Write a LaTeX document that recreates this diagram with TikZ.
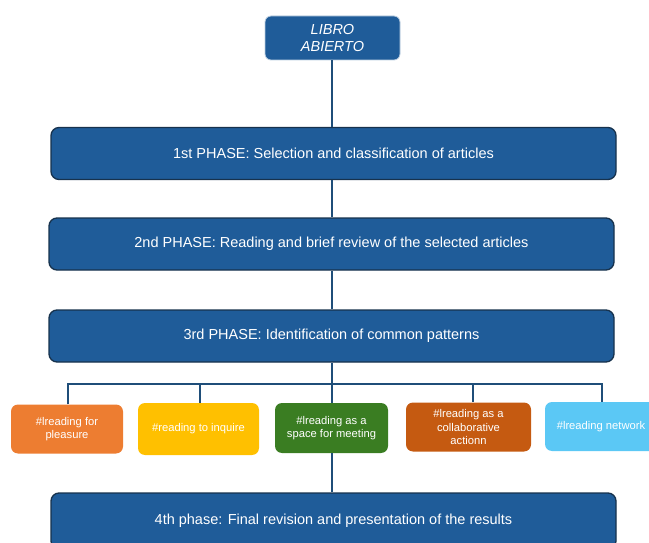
\documentclass[tikz,border=0pt]{standalone}
\usepackage{fontspec}
\setmainfont{Liberation Sans}
\definecolor{pblue}{HTML}{1F5C99}
\definecolor{pedge}{HTML}{17324D}
\definecolor{lcol}{HTML}{1F4E79}
\definecolor{cor}{HTML}{ED7D31}
\definecolor{cye}{HTML}{FFC000}
\definecolor{cgr}{HTML}{3A7D22}
\definecolor{cru}{HTML}{C55A11}
\definecolor{clb}{HTML}{5BC8F5}
\begin{document}
\begin{tikzpicture}[x=1pt,y=-1pt,
  phase/.style={draw=pedge,line width=1.3pt,fill=pblue,rounded corners=8pt,minimum width=565pt,minimum height=52pt,text=white,font=\fontsize{14.5}{17}\selectfont,inner sep=0pt},
  tag/.style={rounded corners=7pt,text=white,font=\fontsize{11.2}{13.5}\selectfont,align=center,inner sep=0pt,minimum height=49pt},
  conn/.style={draw=lcol,line width=1.6pt}]
\useasboundingbox (0,0) rectangle (649,543);
\node[draw=white!70!pblue,line width=0.8pt,fill=pblue,rounded corners=6pt,minimum width=135pt,minimum height=44pt,text=white,font=\fontsize{14.5}{16.5}\selectfont\itshape,align=center,inner sep=0pt] (top) at (332.5,38) {LIBRO\\ABIERTO};
\node[phase] (p1) at (333.5,153.5) {1st PHASE: Selection and classification of articles};
\node[phase] (p2) at (331.5,244) {2nd PHASE: Reading and brief review of the selected articles};
\node[phase] (p3) at (331.5,336) {3rd PHASE: Identification of common patterns};
\node[tag,fill=cor,minimum width=112pt] (t1) at (67,429) {\#lreading for\\pleasure};
\node[tag,fill=cye,minimum width=121pt,minimum height=52pt] (t2) at (198.5,429) {\#reading to inquire};
\node[tag,fill=cgr,minimum width=113pt,minimum height=50pt] (t3) at (331.5,428) {\#lreading as a\\space for meeting};
\node[tag,fill=cru,minimum width=125pt] (t4) at (468.5,427) {\#lreading as a\\collaborative\\actionn};
\node[tag,fill=clb,minimum width=112pt] (t5) at (601,426.5) {\#lreading network};
\node[phase,minimum height=56pt] (p4) at (333.5,521) {4th phase: Final revision and presentation of the results};
\begin{scope}[on background layer/.try]
\draw[conn] (332,0 |- top.south) -- (332,0 |- p1.north);
\draw[conn] (332,0 |- p1.south) -- (332,0 |- p2.north);
\draw[conn] (332,0 |- p2.south) -- (332,0 |- p3.north);
\draw[conn] (332,0 |- p3.south) -- (332,0 |- t3.north);
\draw[conn] (68,0 |- t1.north) -- (68,384) -- (602,384) -- (602,0 |- t5.north);
\draw[conn] (200,384) -- (200,0 |- t2.north);
\draw[conn] (473,384) -- (473,0 |- t4.north);
\draw[conn] (332,0 |- t3.south) -- (332,0 |- p4.north);
\end{scope}
\end{tikzpicture}
\end{document}
